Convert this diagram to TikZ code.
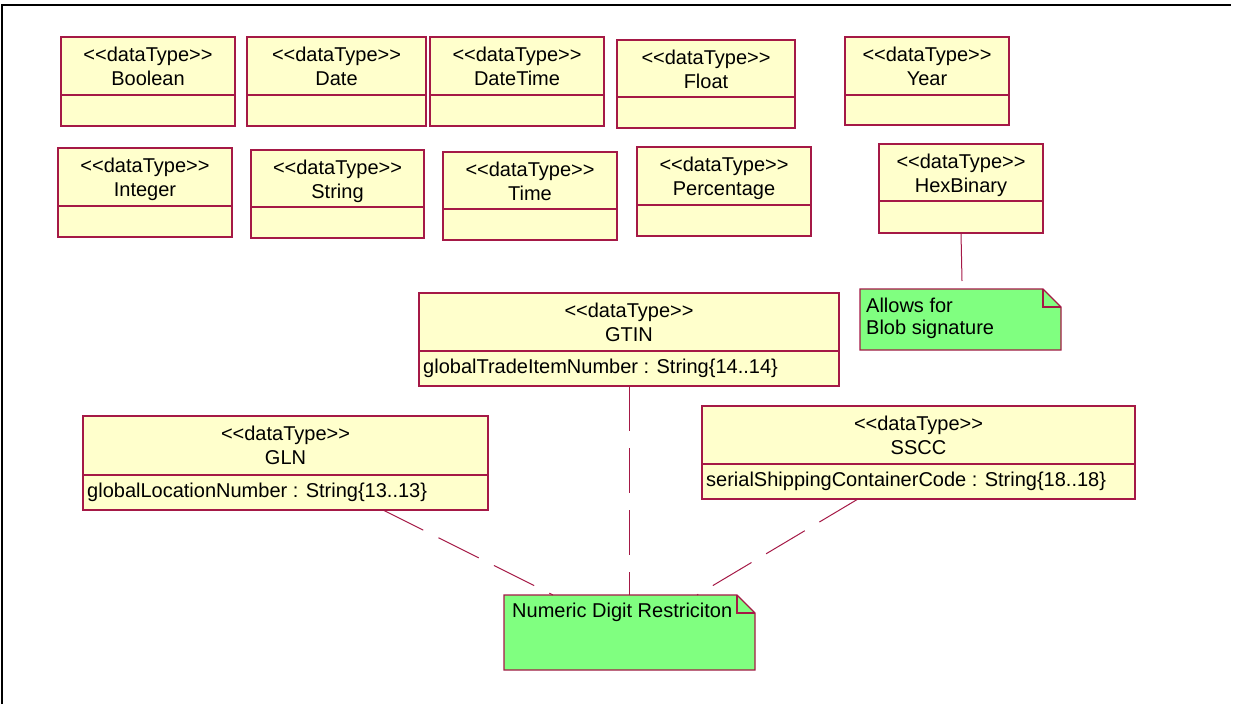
\documentclass[tikz,border=0pt]{standalone}
\usepackage{fontspec}
\newfontfamily\umlfont{Liberation Sans}
\definecolor{umlred}{RGB}{165,25,70}
\definecolor{umlyellow}{RGB}{255,255,204}
\definecolor{umlgreen}{RGB}{128,255,128}
\tikzset{
  classbox/.style={draw=umlred, fill=umlyellow, line width=1.2pt, inner sep=0pt, outer sep=0pt},
  classline/.style={draw=umlred, line width=1.2pt},
  umltext/.style={font=\umlfont\fontsize{20}{24}\selectfont, inner sep=0pt, text=black},
  notebox/.style={draw=umlred, fill=umlgreen, line width=1.2pt, line join=miter},
  noteline/.style={draw=umlred, line width=1.2pt},
  depline/.style={draw=umlred, line width=1pt, dash pattern=on 45pt off 17pt},
  anchorline/.style={draw=umlred, line width=1pt},
  frameline/.style={draw=black, line width=2.5pt},
  holder/.style={inner sep=0pt, outer sep=0pt, draw=none}
}
\newcommand\dtbox[7]{%
  \pgfmathsetmacro\bw{#4-#2}\pgfmathsetmacro\bh{#5-#3}\pgfmathsetmacro\bx{(#2+#4)/2}%
  \node[classbox, minimum width=\bw pt, minimum height=\bh pt, anchor=north west] (#1) at (#2,#3) {};
  \draw[classline] (#2,#6) -- (#4,#6);
  \node[umltext, anchor=base] (#1-st) at (\bx,#3+24.5) {<<dataType>>};
  \node[umltext, anchor=base] (#1-nm) at (\bx,#3+48.5) {#7};
}
\newcommand\dtattr[4]{%
  \node[umltext, anchor=base west] (#1-at) at (#2+4,#3+22) {#4};
}
\newcommand\umlnote[5]{%
  \pgfmathsetmacro\bw{#4-#2}\pgfmathsetmacro\bh{#5-#3}%
  \node[holder, minimum width=\bw pt, minimum height=\bh pt, anchor=north west] (#1) at (#2,#3) {};
  \draw[notebox] (#2,#3) -- (#4-18,#3) -- (#4,#3+18) -- (#4,#5) -- (#2,#5) -- cycle;
  \draw[noteline] (#4-18,#3) -- (#4-18,#3+18) -- (#4,#3+18);
}
\begin{document}
\begin{tikzpicture}[x=1pt, y=-1pt]
\useasboundingbox (0,0) rectangle (1234,704);
\draw[frameline] (2,704) -- (2,5) -- (1231,5);

% row 1
\dtbox{bool}{61}{37}{235}{126}{95}{Boolean}
\dtbox{date}{247}{37}{426}{126}{95}{Date}
\dtbox{datetime}{430}{37}{604}{126}{95}{DateTime}
\dtbox{float}{617}{40}{795}{128}{97}{Float}
\dtbox{year}{845}{37}{1009}{125}{95}{Year}
% row 2
\dtbox{int}{58}{148}{232}{237}{206}{Integer}
\dtbox{string}{251}{150}{424}{238}{207}{String}
\dtbox{time}{443}{152}{617}{240}{209}{Time}
\dtbox{pct}{637}{147}{811}{236}{205}{Percentage}
\dtbox{hex}{879}{144}{1043}{233}{201}{HexBinary}
% attributed types
\dtbox{gtin}{419}{293}{839}{386}{351}{GTIN}
\dtattr{gtin}{419}{351}{globalTradeItemNumber : String\{14..14\}}
\dtbox{gln}{83}{416}{488}{510}{475}{GLN}
\dtattr{gln}{83}{475}{globalLocationNumber : String\{13..13\}}
\dtbox{sscc}{702}{406}{1135}{499}{464}{SSCC}
\dtattr{sscc}{702}{464}{serialShippingContainerCode : String\{18..18\}}

% notes
\umlnote{blob}{860}{289}{1061}{350}
\node[umltext, anchor=base west] (blob-t1) at (866,312) {Allows for};
\node[umltext, anchor=base west] (blob-t2) at (866,334) {Blob signature};
\umlnote{digit}{504}{595}{755}{670}
\node[umltext, anchor=base west] (digit-t) at (512,617) {Numeric Digit Restriciton};

% connectors
\coordinate (hexend) at (962,281);
\draw[anchorline] (hex.south) -- (hexend);
\draw[depline] (gln.south -| 383,0) -- (digit.north -| 553,0);
\draw[depline] (gtin.south -| 629,0) -- (digit.north -| 629,0);
\draw[depline] (sscc.south -| 858,0) -- (digit.north -| 697,0);
\end{tikzpicture}
\end{document}
